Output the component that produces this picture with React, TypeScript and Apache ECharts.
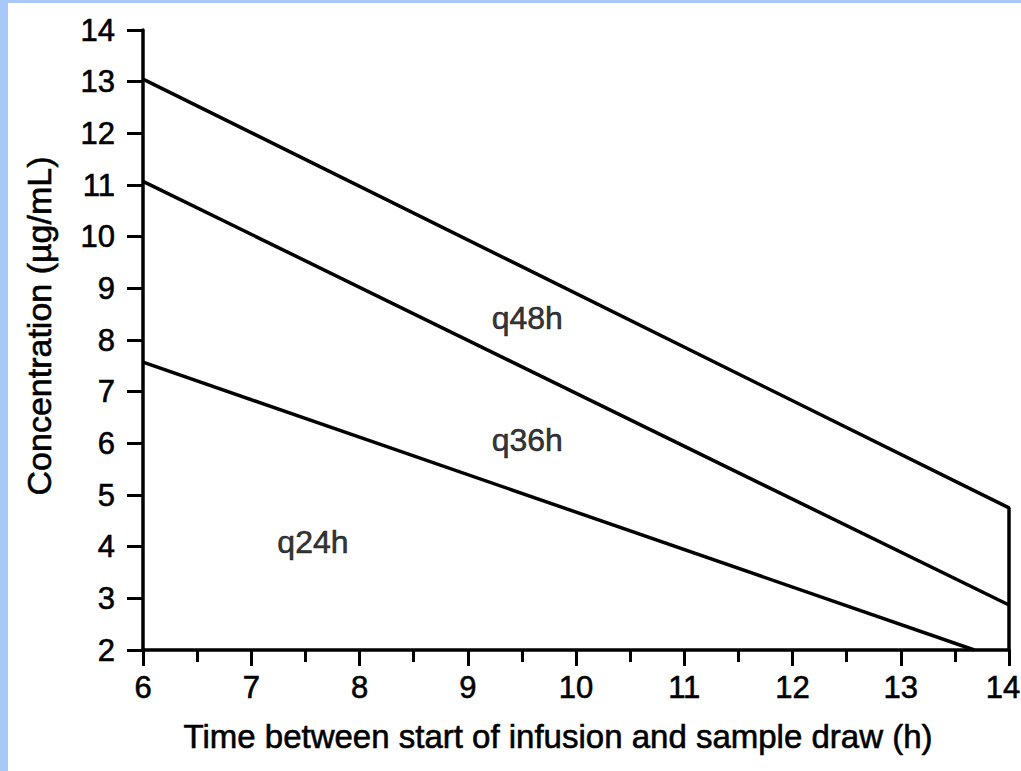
import React, { useEffect, useRef } from "react";
import * as echarts from "echarts";

const xTicks = [6, 7, 8, 9, 10, 11, 12, 13, 14];
const yTicks = [2, 3, 4, 5, 6, 7, 8, 9, 10, 11, 12, 13, 14];

// line end points: [time (h), concentration (µg/mL)]
const q48hLine = [
  [6, 13.05],
  [14, 4.75],
  [14, 2],
];
const q36hLine = [
  [6, 11.07],
  [14, 2.87],
];
const q24hLine = [
  [6, 7.57],
  [13.68, 2],
];

const regionLabels = [
  { name: "q48h", value: [9.55, 8.42] },
  { name: "q36h", value: [9.55, 6.06] },
  { name: "q24h", value: [7.57, 4.09] },
];

const xTitle = "Time between start of infusion and sample draw (h)";
const yTitle = "Concentration (\u00b5g/mL)";

const FONT = "'Liberation Sans', Arial, Helvetica, sans-serif";
const INK = "#000000";
const thick = { textBorderColor: INK, textBorderWidth: 0.6 };
const tickText = { fontSize: 31, color: INK, fontFamily: FONT, ...thick };

export default function App() {
  const ref = useRef<HTMLDivElement>(null);

  useEffect(() => {
    if (!ref.current) return;
    const chart = echarts.init(ref.current, undefined, { renderer: "svg" });
    const lineStyle = { color: INK, width: 3.5 };
    const xMax = xTicks[xTicks.length - 1];
    chart.setOption({
      animation: false,
      backgroundColor: "#ffffff",
      textStyle: { fontFamily: FONT },
      graphic: [
        { type: "rect", left: 0, top: 0, shape: { width: 8, height: 771 }, style: { fill: "#a8c8f8" } },
        { type: "rect", left: 0, top: 0, shape: { width: 1021, height: 3 }, style: { fill: "#a8c8f8" } },
      ],
      grid: { left: 143, right: 12, top: 30, bottom: 121, containLabel: false, outerBoundsMode: "none" },
      xAxis: {
        type: "value",
        min: xTicks[0],
        max: xMax,
        interval: 1,
        name: xTitle,
        nameLocation: "middle",
        nameGap: 70,
        nameTextStyle: { fontSize: 33, color: INK, fontFamily: FONT, padding: [0, 36, 0, 0], ...thick },
        axisLine: { show: true, lineStyle: { color: INK, width: 3.5 } },
        axisTick: { show: true, inside: false, length: 16, lineStyle: { color: INK, width: 3 } },
        minorTick: { show: true, splitNumber: 2, length: 12, lineStyle: { color: INK, width: 3 } },
        splitLine: { show: false },
        axisLabel: {
          ...tickText,
          margin: 22,
          formatter: (v: number) => (v === xMax ? "{m|" + v + "}" : String(v)),
          rich: { m: { ...tickText, padding: [0, 12, 0, 0] } },
        },
      },
      yAxis: {
        type: "value",
        min: yTicks[0],
        max: yTicks[yTicks.length - 1],
        interval: 1,
        name: yTitle,
        nameLocation: "middle",
        nameGap: 87,
        nameRotate: 90,
        nameTextStyle: { fontSize: 34, color: INK, fontFamily: FONT, padding: [0, 0, 0, 28], ...thick },
        axisLine: { show: true, lineStyle: { color: INK, width: 3.5 } },
        axisTick: { show: true, inside: false, length: 16, lineStyle: { color: INK, width: 3 } },
        splitLine: { show: false },
        axisLabel: { ...tickText, margin: 28 },
      },
      series: [
        { name: "q48h", type: "line", data: q48hLine, showSymbol: false, symbol: "none", lineStyle, silent: true },
        { name: "q36h", type: "line", data: q36hLine, showSymbol: false, symbol: "none", lineStyle, silent: true },
        { name: "q24h", type: "line", data: q24hLine, showSymbol: false, symbol: "none", lineStyle, silent: true },
        {
          name: "labels",
          type: "scatter",
          symbolSize: 0,
          data: regionLabels,
          silent: true,
          label: {
            show: true,
            position: "inside",
            formatter: (p: any) => p.name,
            fontSize: 32,
            color: INK,
            fontFamily: FONT,
            ...thick,
          },
        },
      ],
    });
    return () => chart.dispose();
  }, []);

  return (
    <div
      ref={ref}
      style={{ position: "fixed", left: 0, top: 0, width: 1021, height: 771 }}
    />
  );
}
